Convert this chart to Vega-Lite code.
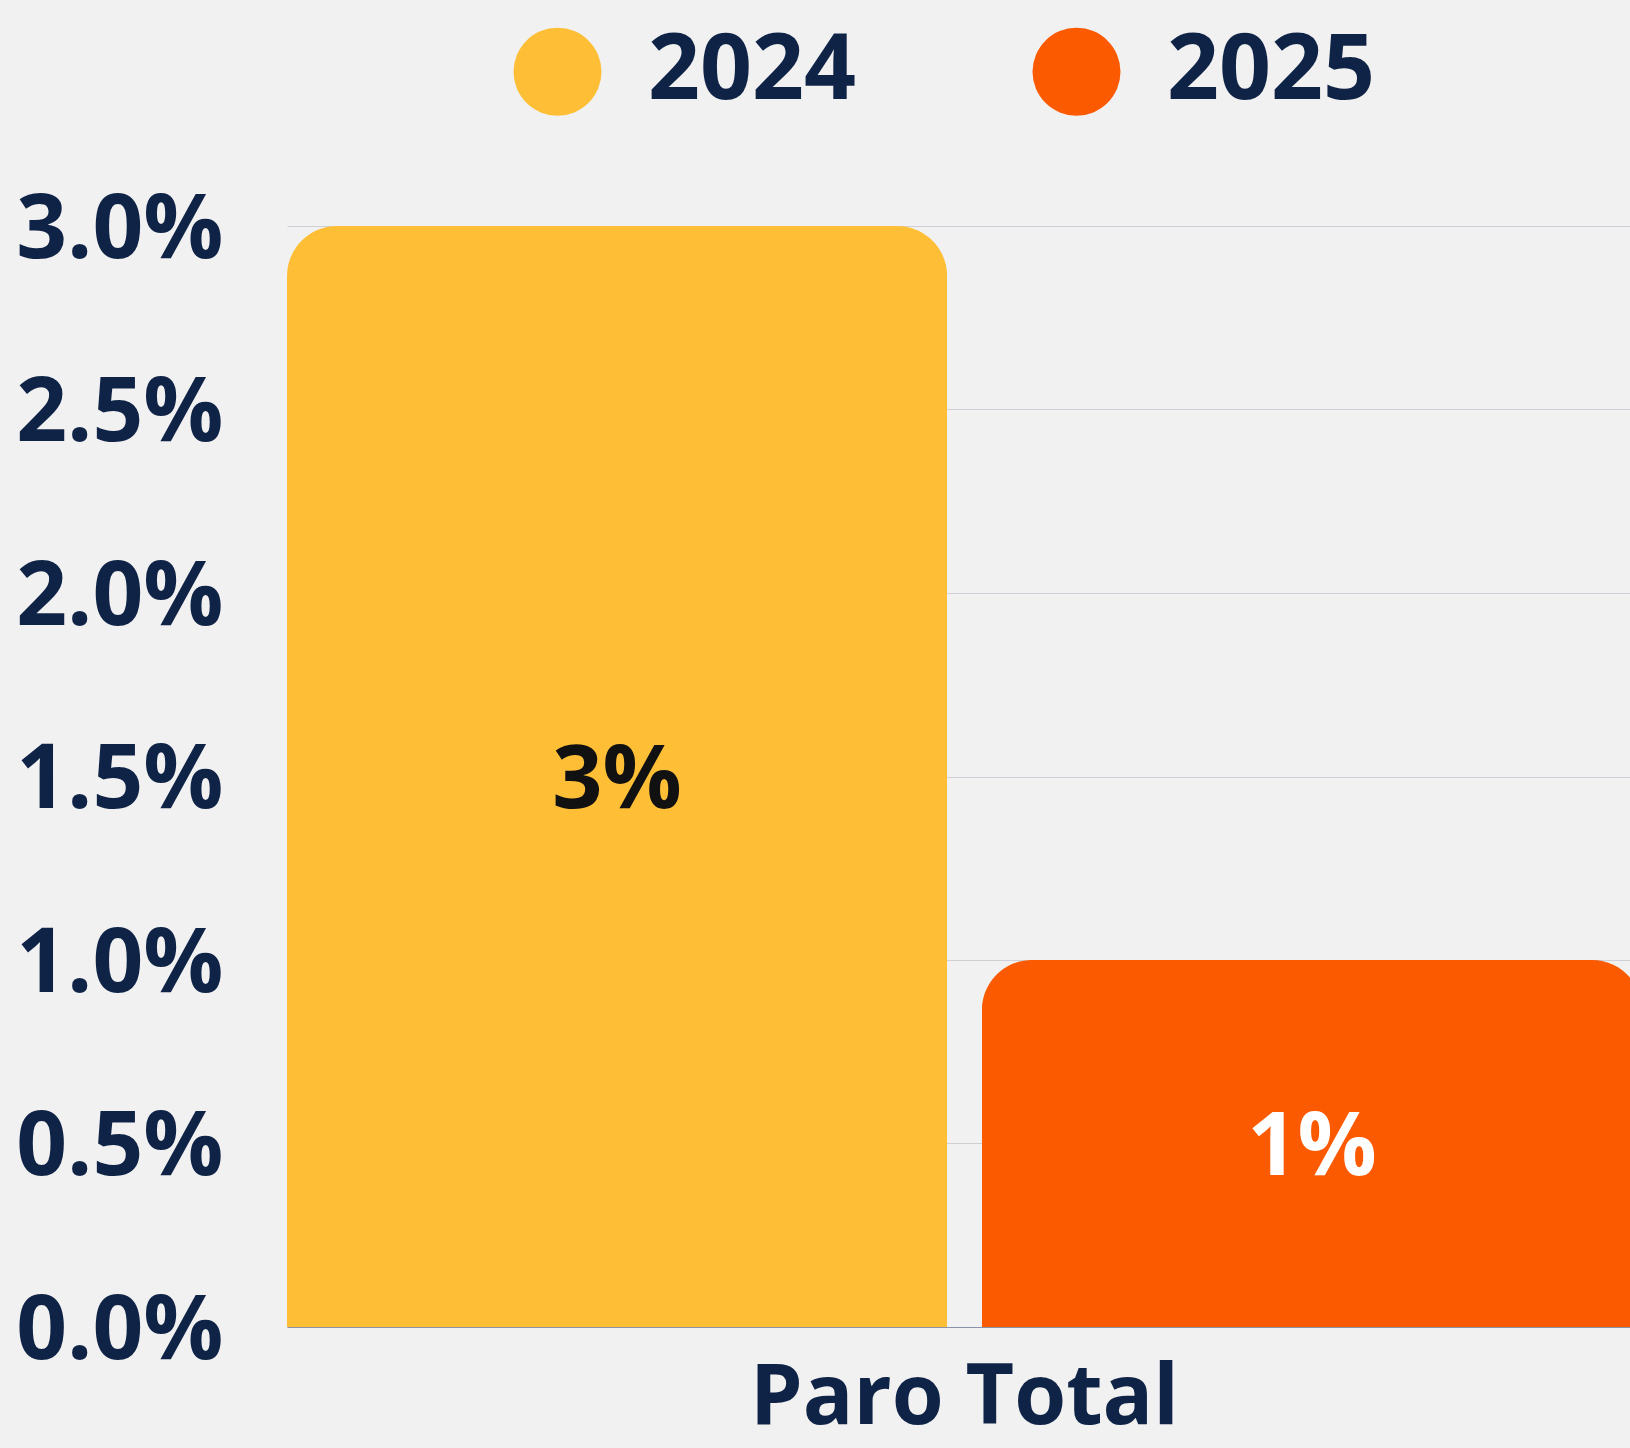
{
  "$schema": "https://vega.github.io/schema/vega-lite/v6.json",
  "autosize": {"type": "none"},
  "width": 1343,
  "height": 1101,
  "padding": {"left": 287, "top": 226, "right": 0, "bottom": 121},
  "background": "#f1f1f1",
  "config": {
    "view": {"stroke": null},
    "font": "Open Sans"
  },
  "data": {
    "values": [
      {"category": "Paro Total", "year": "2024", "value": 0.03},
      {"category": "Paro Total", "year": "2025", "value": 0.01}
    ]
  },
  "encoding": {
    "x": {
      "field": "category",
      "type": "nominal",
      "title": null,
      "scale": {"range": [0, 1355], "paddingInner": 0, "paddingOuter": 0},
      "axis": {
        "labelFont": "Open Sans",
        "labelFontSize": 84,
        "labelFontWeight": "bold",
        "labelColor": "#0f2346",
        "labelPadding": 30,
        "labelAngle": 0,
        "labelLimit": 0,
        "ticks": false,
        "domainColor": "#8a93a8",
        "domainWidth": 1
      }
    },
    "xOffset": {
      "field": "year",
      "type": "nominal",
      "scale": {"paddingInner": 0.05, "paddingOuter": 0}
    }
  },
  "layer": [
    {
      "mark": {"type": "bar", "cornerRadiusTopLeft": 50, "cornerRadiusTopRight": 50},
      "encoding": {
        "y": {
          "field": "value",
          "type": "quantitative",
          "title": null,
          "scale": {"domain": [0, 0.03], "nice": false},
          "axis": {
            "values": [0, 0.005, 0.01, 0.015, 0.02, 0.025, 0.03],
            "format": ".1%",
            "labelFont": "Open Sans",
            "labelFontSize": 89,
            "labelFontWeight": "bold",
            "labelColor": "#0f2346",
            "labelPadding": 64,
            "labelOffset": 4,
            "labelLimit": 0,
            "ticks": false,
            "tickSize": 0,
            "domain": false,
            "grid": true,
            "gridColor": "#cfd0d6",
            "gridWidth": 1
          }
        },
        "color": {
          "field": "year",
          "type": "nominal",
          "scale": {"domain": ["2024", "2025"], "range": ["#febf37", "#fb5a00"]},
          "legend": {
            "title": null,
            "orient": "none",
            "legendX": 225,
            "legendY": -200,
            "direction": "horizontal",
            "columns": 2,
            "columnPadding": 174,
            "symbolType": "circle",
            "symbolSize": 7744,
            "symbolStrokeWidth": 0,
            "labelOffset": 45,
            "labelFont": "Open Sans",
            "labelFontSize": 91,
            "labelFontWeight": "bold",
            "labelColor": "#0f2346",
            "labelLimit": 0,
            "padding": 0
          }
        }
      }
    },
    {
      "mark": {"type": "text", "font": "Open Sans", "fontSize": 88, "fontWeight": "bold", "align": "center", "baseline": "middle", "dy": 5},
      "encoding": {
        "y": {
          "field": "value",
          "type": "quantitative",
          "scale": {"domain": [0, 0.06], "nice": false},
          "axis": null
        },
        "text": {"field": "value", "type": "quantitative", "format": ".0%"},
        "color": {
          "condition": {"test": "datum.year == '2025'", "value": "#ffffff"},
          "value": "#111111"
        }
      }
    }
  ],
  "resolve": {"scale": {"y": "independent"}}
}
